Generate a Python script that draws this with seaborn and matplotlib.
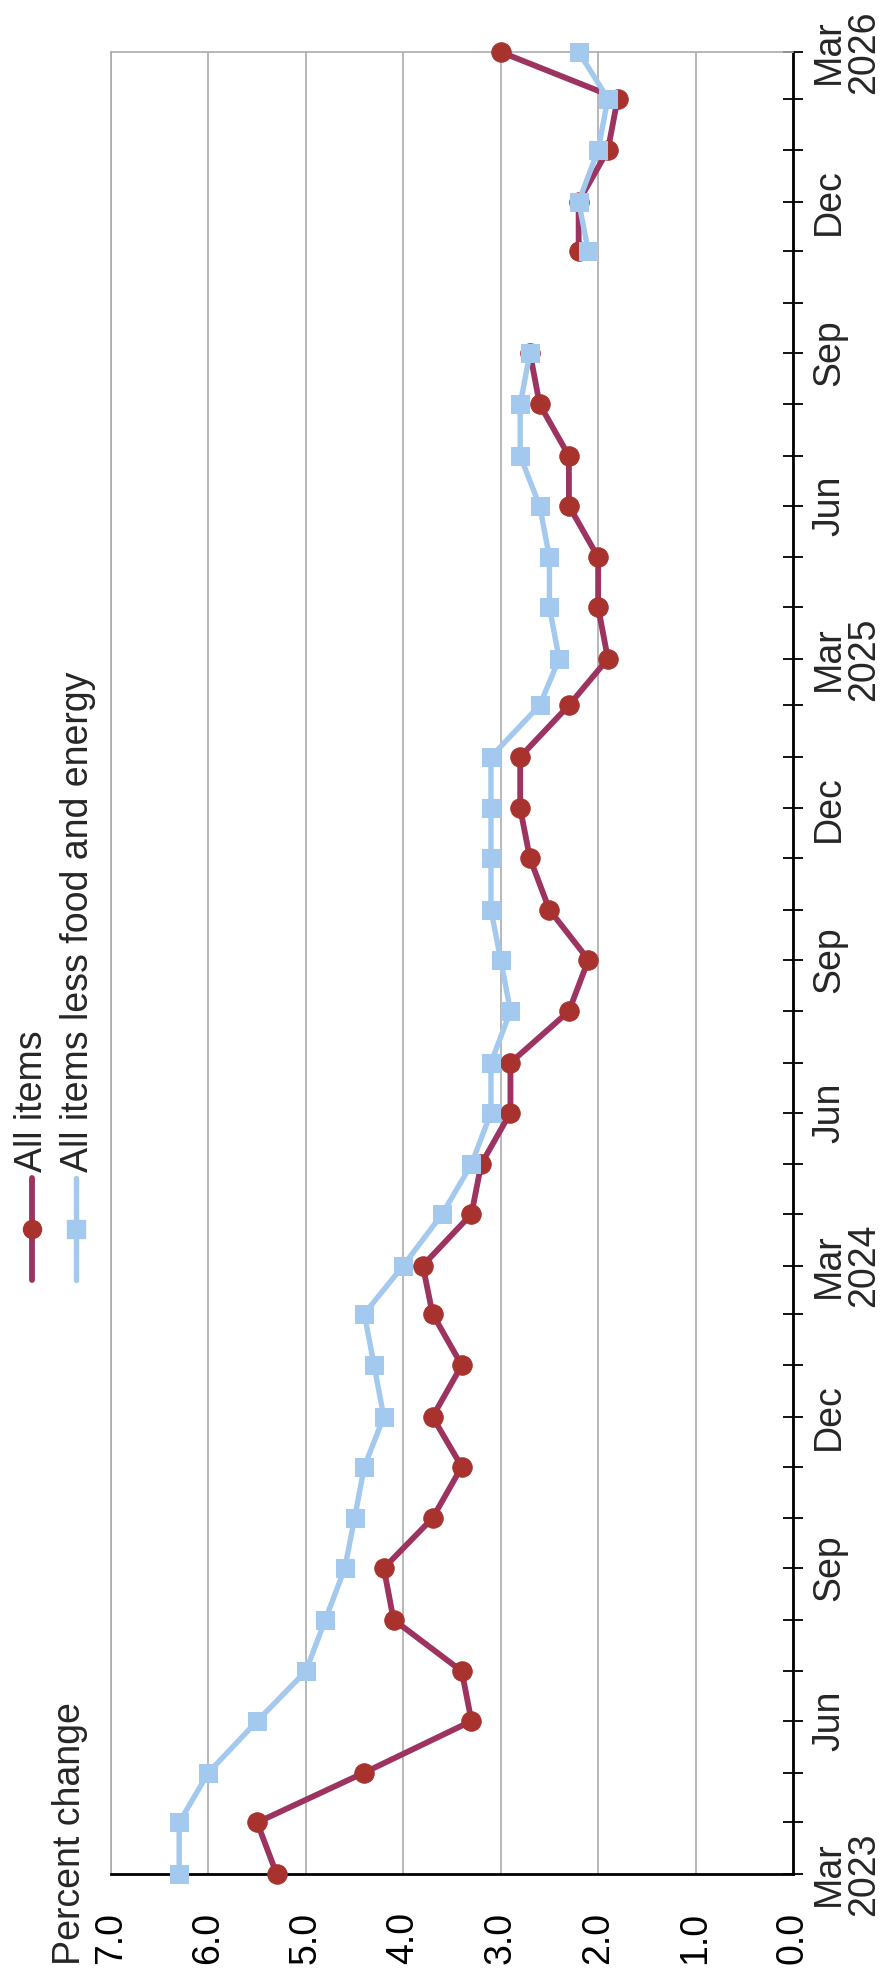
import matplotlib
matplotlib.use("Agg")
import matplotlib.pyplot as plt
import matplotlib.dates as mdates
from matplotlib.lines import Line2D
import numpy as np
import pandas as pd
import seaborn as sns

# 12-month percent change, Mar 2023 - Mar 2026 (no Oct 2025 value)
months = pd.date_range("2023-03-01", "2026-03-01", freq="MS")

all_items = [5.3, 5.5, 4.4, 3.3, 3.4, 4.1, 4.2, 3.7, 3.4, 3.7,
             3.4, 3.7, 3.8, 3.3, 3.2, 2.9, 2.9, 2.3, 2.1, 2.5,
             2.7, 2.8, 2.8, 2.3, 1.9, 2.0, 2.0, 2.3, 2.3, 2.6,
             2.7, np.nan, 2.2, 2.2, 1.9, 1.8, 3.0]
core = [6.3, 6.3, 6.0, 5.5, 5.0, 4.8, 4.6, 4.5, 4.4, 4.2,
        4.3, 4.4, 4.0, 3.6, 3.3, 3.1, 3.1, 2.9, 3.0, 3.1,
        3.1, 3.1, 3.1, 2.6, 2.4, 2.5, 2.5, 2.6, 2.8, 2.8,
        2.7, np.nan, 2.1, 2.2, 2.0, 1.9, 2.2]

month_labels = ["Mar\n2023", "Jun", "Sep", "Dec",
                "Mar\n2024", "Jun", "Sep", "Dec",
                "Mar\n2025", "Jun", "Sep", "Dec",
                "Mar\n2026"]
value_ticks = [0, 1, 2, 3, 4, 5, 6, 7]
value_labels = ["0.0", "1.0", "2.0", "3.0", "4.0", "5.0", "6.0", "7.0"]

RED_LINE = "#9c3360"
RED_MARK = "#a8322d"
BLUE = "#a4c9ee"
GRID = "#ababab"
FS = 27

W, H = 891, 1980


def fx(px):
    return px / W


def fy(py):
    return 1 - py / H


def to_frame(values):
    """ Long frame, with a segment id so that the missing month leaves a gap. """
    df = pd.DataFrame({"month": months, "value": values})
    df["segment"] = df["value"].isna().cumsum()
    return df.dropna()


sns.set_theme(style="white")
plt.rcParams["font.family"] = ["Liberation Sans", "DejaVu Sans"]

fig = plt.figure(figsize=(W / 100, H / 100), dpi=100)
ax = fig.add_axes([fx(111), 1 - 1874 / H, (793 - 111) / W, (1874 - 52) / H])

# The chart is drawn turned a quarter turn: time runs up, percent runs left
sns.lineplot(data=to_frame(all_items), x="value", y="month", orient="y",
             units="segment", estimator=None, ax=ax, legend=False,
             color=RED_LINE, lw=4.2, marker="o", markersize=14,
             markerfacecolor=RED_MARK, markeredgecolor=RED_MARK,
             clip_on=False, zorder=3)
sns.lineplot(data=to_frame(core), x="value", y="month", orient="y",
             units="segment", estimator=None, ax=ax, legend=False,
             color=BLUE, lw=3.9, marker="s", markersize=13.5,
             markerfacecolor=BLUE, markeredgecolor=BLUE,
             clip_on=False, zorder=4)

ax.set_xlim(7, 0)
ax.set_ylim(mdates.date2num(months[0]), mdates.date2num(months[-1]))
ax.set_xlabel("")
ax.set_ylabel("")

# Percent axis (bottom)
ax.set_xticks(value_ticks)
ax.set_xticklabels(value_labels)
ax.tick_params(axis="x", length=0, pad=27, labelsize=FS, labelrotation=90,
               colors="black")

# Time axis (right)
ax.yaxis.tick_right()
ax.set_yticks(mdates.date2num(months[::3]))
ax.set_yticklabels(month_labels)
ax.set_yticks(mdates.date2num(months), minor=True)
ax.tick_params(axis="y", which="both", direction="inout", length=14.4,
               width=1.3, color="black", right=True, left=False,
               labelright=True, labelleft=False, pad=6, labelsize=FS,
               labelrotation=90)
for lab in ax.get_yticklabels():
    lab.set_va("center")
    lab.set_ha("left")
    lab.set_multialignment("center")
    lab.set_linespacing(0.95)

ax.grid(axis="x", color=GRID, lw=1.2)
ax.grid(axis="y", visible=False)
ax.set_axisbelow(True)
for side in ["bottom", "right"]:
    ax.spines[side].set_color("black")
    ax.spines[side].set_linewidth(2)
for side in ["top", "left"]:
    ax.spines[side].set_color(GRID)
    ax.spines[side].set_linewidth(1.2)

# Axis title
fig.text(fx(80), fy(1965), "Percent change", rotation=90,
         rotation_mode="anchor", ha="left", va="baseline", fontsize=FS)

# Legend, turned like the rest
for x_line, x_text, col, mcol, mk, lw, label in [
        (32, 42, RED_LINE, RED_MARK, "o", 4.2, "All items"),
        (76, 88, BLUE, BLUE, "s", 3.9, "All items less food and energy")]:
    fig.add_artist(Line2D([fx(x_line)] * 2, [fy(1178), fy(1280)],
                          color=col, lw=lw))
    fig.add_artist(Line2D([fx(x_line)], [fy(1229)], marker=mk, ms=13,
                          color=mcol, ls="none"))
    fig.text(fx(x_text), fy(1172), label, rotation=90,
             rotation_mode="anchor", ha="left", va="baseline", fontsize=FS)

fig.savefig("out.png", dpi=100)
